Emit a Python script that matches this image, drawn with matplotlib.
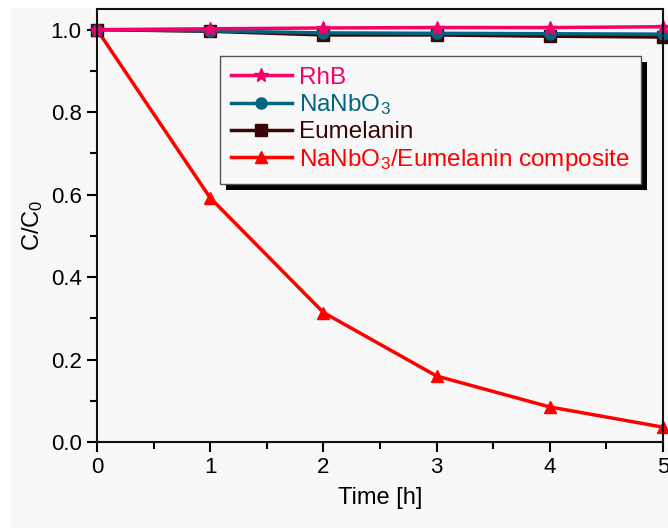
import numpy as np
import matplotlib
matplotlib.use("Agg")
import matplotlib.pyplot as plt
from matplotlib.ticker import MultipleLocator, FormatStrFormatter
from matplotlib.transforms import IdentityTransform

plt.rcParams["font.family"] = ["Liberation Sans", "DejaVu Sans"]
plt.rcParams["mathtext.fontset"] = "custom"
plt.rcParams["mathtext.rm"] = "Liberation Sans"
plt.rcParams["mathtext.it"] = "Liberation Sans"

# data
time_h = [0, 1, 2, 3, 4, 5]
rhb = [1.0, 1.002, 1.004, 1.005, 1.005, 1.007]
nanbo3 = [1.0, 0.997, 0.992, 0.991, 0.990, 0.989]
eumelanin = [1.0, 0.996, 0.987, 0.987, 0.984, 0.982]
composite = [1.0, 0.592, 0.314, 0.160, 0.085, 0.036]

labels = ["RhB", "NaNbO$_3$", "Eumelanin", "NaNbO$_3$/Eumelanin composite"]
colors = ["#f5006a", "#00667f", "#3b0505", "#ff0000"]
markers = ["*", "o", "s", "^"]
series = [rhb, nanbo3, eumelanin, composite]

bg = "#f8f8f8"
fig = plt.figure(figsize=(6.68, 5.28), dpi=100, facecolor="white")
fig.patches.append(plt.Rectangle((10 / 668, 0), 1, 1 - 8 / 528, transform=fig.transFigure,
                                 facecolor=bg, edgecolor="none", zorder=-10))
ax = fig.add_axes([97 / 668, 1 - 442 / 528, 566 / 668, 433 / 528])
ax.set_facecolor(bg)

# draw in reverse so RhB sits on top
for ys, lab, c, m in reversed(list(zip(series, labels, colors, markers))):
    ms = 10 if m == "*" else 8
    ax.plot(time_h, ys, color=c, marker=m, markersize=ms, linewidth=2.5,
            label=lab, clip_on=False)

ax.set_xlim(0, 5)
ax.set_ylim(0, 1.05)
ax.xaxis.set_major_locator(MultipleLocator(1))
ax.xaxis.set_minor_locator(MultipleLocator(0.5))
ax.yaxis.set_major_locator(MultipleLocator(0.2))
ax.yaxis.set_minor_locator(MultipleLocator(0.1))
ax.yaxis.set_major_formatter(FormatStrFormatter("%.1f"))
ax.tick_params(which="major", direction="out", length=7, width=1.5, labelsize=16, pad=4)
ax.tick_params(which="minor", direction="out", length=5, width=1.5)
for s in ax.spines.values():
    s.set_linewidth(1.5)
    s.set_color("#111111")

ax.set_xlabel("Time [h]", fontsize=17, labelpad=6)
ax.set_ylabel("C/C$_0$", fontsize=17, labelpad=4)

handles, labs = ax.get_legend_handles_labels()
leg = ax.legend(handles[::-1], labs[::-1], loc="upper left",
                bbox_to_anchor=((220 - 97) / 566, (442 - 56) / 433),
                fontsize=17.5, frameon=True, fancybox=False, framealpha=1,
                handlelength=2.5, handletextpad=0.3, labelspacing=0.15,
                borderpad=0.45, borderaxespad=0)
leg.get_frame().set_edgecolor("#555555")
leg.get_frame().set_facecolor(bg)
leg.get_frame().set_linewidth(1.0)
for t, c in zip(leg.get_texts(), colors):
    t.set_color(c)

# thick black drop shadow behind the legend box
fig.canvas.draw()
bb = leg.get_window_extent()
ax.add_patch(plt.Rectangle((bb.x0 + 6, bb.y0 - 6), bb.width, bb.height,
                           transform=IdentityTransform(), facecolor="black",
                           edgecolor="none", zorder=4.9, clip_on=False))

fig.savefig("out.png", dpi=100, facecolor=fig.get_facecolor())
